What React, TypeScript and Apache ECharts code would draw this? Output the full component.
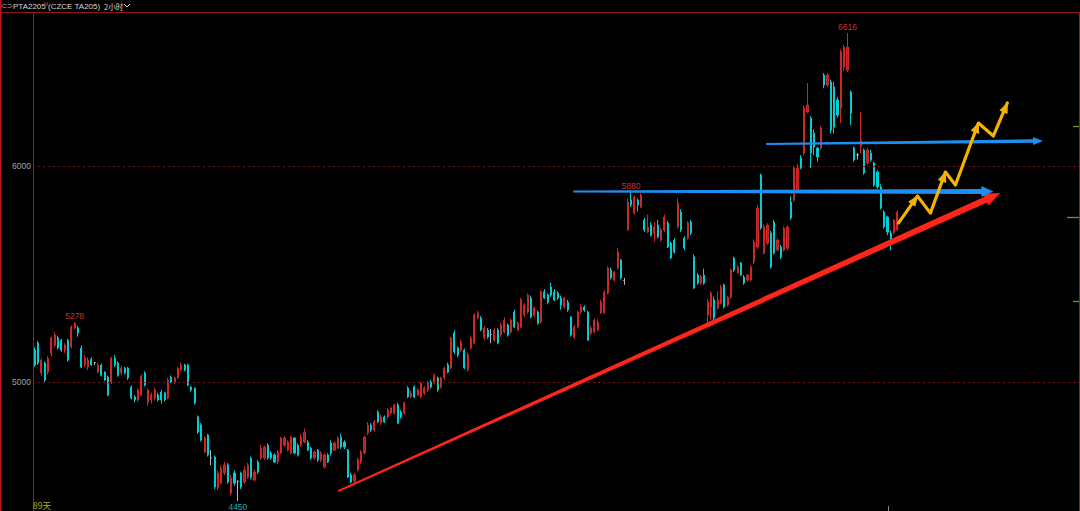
import React, { useEffect, useRef } from "react";
import * as echarts from "echarts";

// ---------- data ----------
const SLOT_COUNT = 314; // bar slots across the plot (last ones are empty space)
const categories = Array.from({ length: SLOT_COUNT }, (_, i) => String(i));

// [open, close, low, high]
const candles: number[][] = [
  [5148,5079,5070,5160],[5181,5088,5080,5190],[5042,5102,5030,5110],[5088,5009,4995,5095],[5046,5111,5035,5120],
  [5134,5204,5120,5210],[5171,5218,5160,5232],[5204,5157,5150,5215],[5194,5148,5140,5200],[5148,5171,5135,5180],
  [5194,5102,5095,5200],[5162,5255,5155,5262],[5250,5273,5245,5278],[5250,5227,5210,5260],[5157,5069,5065,5170],
  [5079,5111,5070,5125],[5069,5102,5055,5115],[5106,5079,5075,5115],[5090,5090,5079,5093],[5046,5079,5040,5090],
  [5079,5032,5025,5085],[5046,5009,5005,5050],[5023,4940,4935,5030],[5000,5111,4990,5115],[5111,5079,5070,5125],
  [5088,5032,5025,5095],[5042,5065,5030,5075],[5065,5042,5035,5070],[5065,5019,5010,5070],[4977,4926,4920,4985],
  [4931,4917,4905,4940],[4917,4963,4910,4970],[4940,5028,4935,5035],[5042,4986,4980,5050],[4907,4963,4890,4970],
  [4917,4940,4900,4950],[4926,4963,4915,4975],[4940,4917,4910,4950],[4954,4917,4900,4965],[4949,4917,4910,4955],
  [4926,5009,4920,5020],[5023,5000,4995,5030],[5000,5019,4990,5025],[5019,5065,5015,5070],[5056,5079,5050,5090],
  [5079,5056,5050,5085],[5079,4986,4980,5085],[4977,4963,4955,4980],[4972,4903,4895,4975],[4838,4768,4760,4845],
  [4801,4731,4725,4810],[4676,4741,4670,4750],[4755,4662,4655,4760],[4650,4650,4615,4685],[4653,4514,4505,4660],
  [4510,4579,4500,4590],[4532,4602,4525,4615],[4579,4616,4570,4630],[4616,4537,4530,4625],[4486,4556,4475,4570],
  [4579,4532,4520,4590],[4540,4540,4450,4545],[4579,4514,4505,4585],[4537,4593,4530,4610],[4560,4616,4550,4625],
  [4648,4560,4550,4655],[4546,4583,4540,4595],[4630,4583,4575,4640],[4648,4694,4640,4710],[4648,4699,4640,4705],
  [4708,4648,4640,4715],[4671,4648,4640,4680],[4662,4630,4625,4670],[4630,4676,4620,4685],[4671,4741,4665,4745],
  [4708,4741,4700,4750],[4685,4722,4680,4730],[4671,4745,4665,4750],[4741,4671,4665,4745],[4708,4662,4655,4715],
  [4708,4745,4700,4760],[4722,4768,4715,4785],[4722,4685,4680,4730],[4694,4648,4640,4700],[4648,4676,4640,4685],
  [4685,4639,4630,4690],[4639,4671,4630,4680],[4606,4662,4600,4670],[4662,4630,4625,4670],[4718,4671,4660,4730],
  [4685,4718,4680,4725],[4694,4741,4690,4750],[4745,4699,4690,4760],[4722,4699,4690,4730],[4685,4560,4555,4690],
  [4570,4537,4530,4580],[4540,4570,4530,4580],[4593,4639,4585,4650],[4630,4676,4620,4685],[4671,4745,4665,4750],
  [4764,4801,4755,4815],[4801,4778,4770,4810],[4778,4815,4770,4825],[4861,4815,4810,4870],[4810,4838,4800,4850],
  [4838,4815,4810,4845],[4838,4870,4830,4880],[4856,4880,4850,4885],[4856,4894,4850,4900],[4894,4810,4805,4905],
  [4861,4838,4830,4870],[4856,4903,4850,4910],[4972,4931,4925,4980],[4931,4949,4925,4960],[4977,4931,4925,4985],
  [4940,4963,4935,4970],[4931,4995,4925,5000],[4949,4972,4940,4980],[4963,5000,4955,5005],[5000,4977,4970,5010],
  [4995,5032,4990,5040],[5019,4963,4955,5025],[4977,5019,4970,5025],[5019,5065,5010,5070],[5079,5046,5040,5090],
  [5065,5204,5060,5210],[5227,5139,5130,5240],[5157,5125,5115,5165],[5148,5185,5140,5195],[5148,5065,5060,5155],
  [5056,5125,5050,5135],[5157,5204,5150,5215],[5181,5310,5175,5320],[5296,5320,5290,5330],[5296,5241,5235,5305],
  [5204,5250,5195,5260],[5241,5208,5200,5250],[5220,5220,5180,5245],[5194,5241,5185,5250],[5241,5181,5175,5250],
  [5218,5264,5210,5275],[5232,5287,5225,5300],[5264,5218,5210,5270],[5232,5287,5225,5295],[5324,5255,5250,5335],
  [5241,5273,5235,5280],[5255,5380,5250,5390],[5310,5356,5300,5365],[5324,5403,5315,5410],[5389,5301,5295,5400],
  [5310,5343,5300,5350],[5324,5273,5265,5330],[5278,5417,5270,5425],[5417,5389,5385,5430],[5403,5370,5360,5410],
  [5440,5403,5395,5460],[5417,5380,5375,5430],[5412,5389,5380,5420],[5389,5356,5335,5400],[5347,5389,5340,5395],
  [5370,5333,5325,5380],[5301,5218,5210,5305],[5208,5255,5200,5265],[5255,5324,5250,5330],[5324,5347,5315,5360],
  [5347,5333,5325,5355],[5324,5194,5190,5330],[5227,5250,5220,5260],[5232,5287,5225,5295],[5241,5278,5235,5290],
  [5320,5370,5315,5380],[5320,5417,5315,5425],[5412,5528,5405,5535],[5519,5482,5475,5530],[5472,5510,5465,5515],
  [5528,5602,5520,5620],[5565,5482,5475,5570],[5470,5470,5450,5482],[5704,5833,5700,5850],[5843,5820,5810,5880],
  [5782,5856,5775,5865],[5843,5820,5790,5850],[5810,5866,5805,5875],[5750,5704,5695,5760],[5695,5718,5690,5775],
  [5727,5680,5675,5740],[5690,5718,5650,5740],[5727,5671,5665,5750],[5657,5704,5650,5715],[5704,5764,5695,5775],
  [5736,5625,5620,5745],[5643,5574,5570,5650],[5657,5602,5595,5665],[5718,5829,5710,5850],[5787,5704,5695,5800],
  [5667,5620,5610,5675],[5667,5736,5660,5745],[5741,5690,5680,5750],[5579,5435,5430,5590],[5495,5458,5450,5505],
  [5458,5486,5450,5495],[5495,5458,5450,5525],[5310,5370,5264,5385],[5347,5412,5290,5420],[5380,5296,5285,5395],
  [5343,5380,5335,5420],[5366,5440,5360,5450],[5449,5347,5340,5455],[5356,5393,5350,5400],[5393,5519,5385,5525],
  [5574,5519,5510,5580],[5505,5532,5500,5540],[5551,5495,5490,5555],[5486,5458,5450,5495],[5472,5495,5465,5500],
  [5472,5532,5465,5540],[5556,5648,5545,5660],[5625,5806,5615,5820],[5958,5713,5705,5965],[5597,5718,5590,5730],
  [5643,5727,5635,5735],[5690,5532,5525,5700],[5741,5597,5590,5750],[5611,5657,5605,5665],[5625,5579,5570,5635],
  [5611,5713,5605,5720],[5620,5718,5610,5725],[5833,5759,5750,5860],[5843,5991,5835,6000],[5889,5991,5880,6010],
  [6037,5991,5985,6050],[6060,6268,6050,6280],[6250,6282,6245,6384],[6222,6060,5990,6230],[6153,6088,6050,6170],
  [6083,6042,6020,6090],[6083,6176,6075,6185],[6421,6375,6360,6430],[6375,6421,6365,6430],[6389,6167,6150,6400],
  [6366,6180,6150,6390],[6306,6236,6225,6320],[6268,6528,6199,6540],[6458,6551,6440,6560],[6444,6551,6435,6616],
  [6343,6245,6190,6350],[6083,6028,6020,6090],[6051,6051,6030,6060],[6090,6120,6060,6250],[6074,5968,5960,6080],
  [6014,6074,6005,6085],[6060,6028,6020,6075],[6014,5912,5905,6020],[5972,5903,5895,5980],[5903,5806,5800,5915],
  [5787,5718,5710,5795],[5764,5694,5680,5770],[5690,5640,5610,5700],[5690,5750,5685,5755],[5704,5787,5700,5795],
];

const gridLevels = [6000, 5000];
const Y_MIN = 4403;
const Y_MAX = 6713;

// extreme-price labels: [slot, price]
const highLabels = [[12, 5278], [179, 5880], [244, 6616]];
const lowLabels = [[61, 4450]];

// hand-drawn annotations, in [slot, price]
const trendLine = [[91.1, 4495], [289.9, 5875]];
const supportLine = [[161.7, 5882], [287.8, 5882]];
const resistanceLine = [[219.6, 6102], [302.7, 6116]];
const projectionPath = [
  [259.3, 5736], [265.0, 5861], [268.9, 5782], [273.4, 5972],
  [276.4, 5912], [283.3, 6199], [287.8, 6139], [292.0, 6292],
];

// ---------- helpers ----------
function arrowPolygon(p0: number[], p1: number[], w0: number, w1: number, L: number, H: number) {
  const dx = p1[0] - p0[0], dy = p1[1] - p0[1];
  const len = Math.hypot(dx, dy) || 1;
  const ux = dx / len, uy = dy / len;
  const nx = -uy, ny = ux;
  const bx = p1[0] - ux * L, by = p1[1] - uy * L;
  return [
    [p0[0] + nx * w0 / 2, p0[1] + ny * w0 / 2],
    [bx + nx * w1 / 2, by + ny * w1 / 2],
    [bx + nx * H / 2, by + ny * H / 2],
    [p1[0], p1[1]],
    [bx - nx * H / 2, by - ny * H / 2],
    [bx - nx * w1 / 2, by - ny * w1 / 2],
    [p0[0] - nx * w0 / 2, p0[1] - ny * w0 / 2],
  ];
}

function headPolygon(p0: number[], p1: number[], L: number, H: number) {
  const dx = p1[0] - p0[0], dy = p1[1] - p0[1];
  const len = Math.hypot(dx, dy) || 1;
  const ux = dx / len, uy = dy / len;
  const nx = -uy, ny = ux;
  const bx = p1[0] - ux * L, by = p1[1] - uy * L;
  return [[bx + nx * H / 2, by + ny * H / 2], [p1[0] + ux * 1, p1[1] + uy * 1], [bx - nx * H / 2, by - ny * H / 2]];
}

const RED_UP = "#b41f22";
const RED_UP_EDGE = "#cc2828";
const CYAN_DOWN = "#00cdd4";
const LINE_RED = "#ff2518";
const LINE_BLUE = "#1e8ff0";
const LINE_YELLOW = "#f5b301";
const TXT = '"Liberation Sans", Arial, sans-serif';

export default function App() {
  const ref = useRef<HTMLDivElement>(null);

  useEffect(() => {
    document.body.style.margin = "0";
    document.body.style.background = "#000";
    const chart = echarts.init(ref.current!, null, { renderer: "svg" });

    const annotations = [
      { pts: trendLine, color: LINE_RED, w0: 2, w1: 6.5, L: 16, H: 13 },
      { pts: supportLine, color: LINE_BLUE, w0: 2, w1: 5, L: 12, H: 11 },
      { pts: resistanceLine, color: LINE_BLUE, w0: 2, w1: 3.5, L: 10, H: 8 },
    ];

    const option: any = {
      animation: false,
      backgroundColor: "#000",
      grid: { left: 33, right: 1, top: 12, bottom: 0 },
      xAxis: {
        type: "category",
        data: categories,
        boundaryGap: true,
        axisLine: { show: false },
        axisTick: { show: false },
        axisLabel: { show: false },
        splitLine: { show: false },
      },
      yAxis: {
        type: "value",
        min: Y_MIN,
        max: Y_MAX,
        axisLine: { show: false },
        axisTick: { show: false },
        axisLabel: { show: false },
        splitLine: { show: false },
      },
      series: [
        {
          type: "candlestick",
          data: candles,
          barWidth: 1.6,
          z: 2,
          itemStyle: {
            color: RED_UP,
            borderColor: RED_UP_EDGE,
            color0: CYAN_DOWN,
            borderColor0: CYAN_DOWN,
            borderColorDoji: "#b8b8b8",
            borderWidth: 1,
          },
          markLine: {
            silent: true,
            symbol: ["none", "none"],
            lineStyle: { color: "#7c1313", type: [2, 3], width: 1 },
            label: {
              show: true,
              position: "start",
              distance: 2,
              color: "#a3a3a3",
              fontSize: 8.5,
              fontFamily: TXT,
              formatter: (p: any) => String(p.value),
            },
            data: gridLevels.map((v) => ({ yAxis: v })),
          },
        },
        {
          type: "custom",
          z: 5,
          silent: true,
          data: [0, 1, 2, 3].map((k) => [k, 5000]),
          renderItem: (params: any, api: any) => {
            const toPx = (pt: number[]) => {
              const i0 = Math.floor(pt[0]);
              const f = pt[0] - i0;
              const a = api.coord([i0, pt[1]]);
              const b = api.coord([i0 + 1, pt[1]]);
              return [a[0] + (b[0] - a[0]) * f, a[1]];
            };
            const k = params.dataIndex;
            if (k < 3) {
              const a = annotations[k];
              const p0 = toPx(a.pts[0]);
              const p1 = toPx(a.pts[1]);
              return {
                type: "polygon",
                shape: { points: arrowPolygon(p0, p1, a.w0, a.w1, a.L, a.H) },
                style: { fill: a.color },
              };
            }
            const pts = projectionPath.map(toPx);
            const children: any[] = [
              {
                type: "polyline",
                shape: { points: pts },
                style: { stroke: LINE_YELLOW, lineWidth: 3.2, fill: "none", lineJoin: "round", lineCap: "round" },
              },
            ];
            for (let s = 0; s < pts.length - 1; s++) {
              if (pts[s + 1][1] < pts[s][1]) {
                children.push({
                  type: "polygon",
                  shape: { points: headPolygon(pts[s], pts[s + 1], 10, 9) },
                  style: { fill: LINE_YELLOW },
                });
              }
            }
            return { type: "group", children };
          },
        },
        {
          type: "custom",
          z: 6,
          silent: true,
          data: [...highLabels, ...lowLabels],
          renderItem: (params: any, api: any) => {
            const k = params.dataIndex;
            const isHigh = k < highLabels.length;
            const d = isHigh ? highLabels[k] : lowLabels[k - highLabels.length];
            const pt = api.coord([d[0], d[1]]);
            return {
              type: "text",
              x: pt[0],
              y: isHigh ? pt[1] - 1 : pt[1] + 2,
              style: {
                text: String(d[1]),
                fill: isHigh ? "#c9302c" : "#2aa6b8",
                font: `8.5px ${TXT}`,
                align: "center",
                verticalAlign: isHigh ? "bottom" : "top",
                textAlign: "center",
                textVerticalAlign: isHigh ? "bottom" : "top",
              },
            };
          },
        },
      ],
      graphic: [
        { type: "rect", silent: true, shape: { x: 0, y: 0, width: 1.5, height: 511 }, style: { fill: "#c0161a" } },
        { type: "line", silent: true, shape: { x1: 0, y1: 12.5, x2: 1080, y2: 12.5 }, style: { stroke: "#8e1616", lineWidth: 1 } },
        { type: "line", silent: true, shape: { x1: 33.5, y1: 12.5, x2: 33.5, y2: 511 }, style: { stroke: "#a51b1b", lineWidth: 1 } },
        { type: "line", silent: true, shape: { x1: 1079.5, y1: 12.5, x2: 1079.5, y2: 511 }, style: { stroke: "#a51b1b", lineWidth: 1 } },
        { type: "text", silent: true, x: 1, y: 6, style: { text: "⊂⊃", fill: "#b8b8b8", font: '7px "DejaVu Sans"', verticalAlign: "middle", textVerticalAlign: "middle" } },
        { type: "text", silent: true, x: 13, y: 6, style: { text: "PTA2205", fill: "#d6d6d6", font: `8px ${TXT}`, verticalAlign: "middle", textVerticalAlign: "middle" } },
        { type: "text", silent: true, x: 44, y: 3.5, style: { text: "M", fill: "#e0302a", font: `5px ${TXT}`, verticalAlign: "middle", textVerticalAlign: "middle" } },
        { type: "text", silent: true, x: 48, y: 6, style: { text: "(CZCE TA205)", fill: "#d6d6d6", font: `8px ${TXT}`, verticalAlign: "middle", textVerticalAlign: "middle" } },
        { type: "text", silent: true, x: 104, y: 6, style: { text: "2小时", fill: "#d6d6d6", font: '7.5px "Noto Sans CJK SC"', verticalAlign: "middle", textVerticalAlign: "middle" } },
        { type: "polyline", silent: true, shape: { points: [[124, 4], [127, 7], [130, 4]] }, style: { stroke: "#d6d6d6", lineWidth: 1, fill: "none" } },
        { type: "line", silent: true, shape: { x1: 1073, y1: 126.5, x2: 1079, y2: 126.5 }, style: { stroke: "#8c8a1c", lineWidth: 1.3 } },
        { type: "line", silent: true, shape: { x1: 1067, y1: 217.5, x2: 1079, y2: 217.5 }, style: { stroke: "#8c8a1c", lineWidth: 1.3 } },
        { type: "line", silent: true, shape: { x1: 1073, y1: 301.5, x2: 1079, y2: 301.5 }, style: { stroke: "#8c8a1c", lineWidth: 1.3 } },
        { type: "text", silent: true, x: 33, y: 505, style: { text: "89天", fill: "#b5b02a", font: '8.5px "Noto Sans CJK SC"', verticalAlign: "middle", textVerticalAlign: "middle" } },
        { type: "line", silent: true, shape: { x1: 888.5, y1: 506, x2: 888.5, y2: 511 }, style: { stroke: "#8a8a8a", lineWidth: 1 } },
      ],
    };

    chart.setOption(option);
    return () => chart.dispose();
  }, []);

  return (
    <div
      ref={ref}
      style={{ position: "fixed", left: 0, top: 0, width: 1080, height: 511, background: "#000" }}
    />
  );
}
